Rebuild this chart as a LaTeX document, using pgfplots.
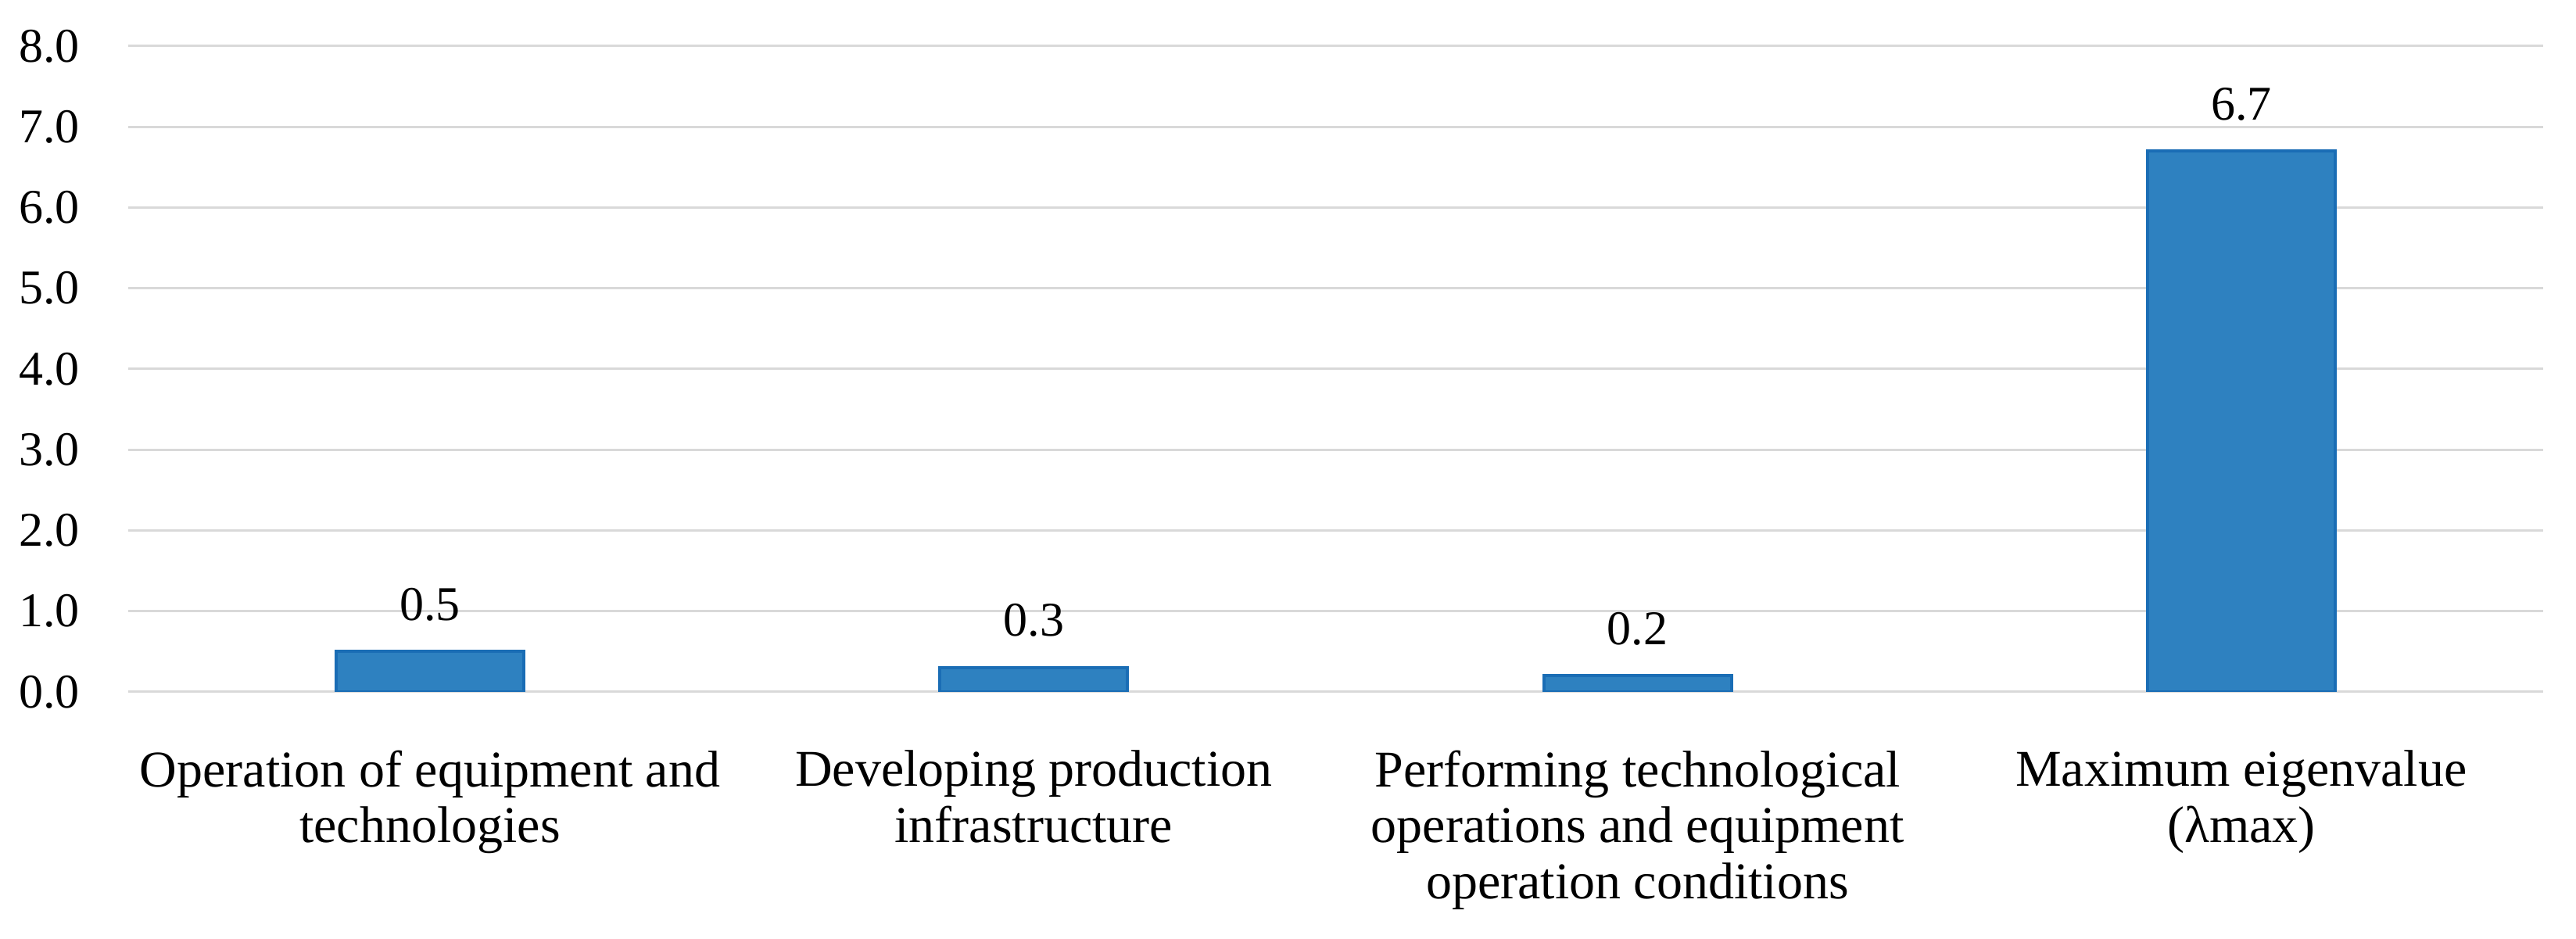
\documentclass[border=0pt]{standalone}
\usepackage{fontspec}
\setmainfont{Liberation Serif}
\usepackage{pgfplots}
\pgfplotsset{compat=1.18}

\definecolor{barfill}{HTML}{2E81C0}
\definecolor{baredge}{HTML}{1A6DB5}
\definecolor{gridgray}{HTML}{D9D9D9}

\begin{document}
\begin{tikzpicture}
\begin{axis}[
	scale only axis,
	width=772.25pt, height=206.5pt,
	xmin=-0.5, xmax=3.5,
	ymin=0, ymax=8,
	ytick={0,1,...,8},
	xtick={0,1,2,3},
	xticklabels={
		{Operation of equipment and\\technologies},
		{Developing production\\infrastructure},
		{Performing technological\\operations and equipment\\operation conditions},
		{Maximum eigenvalue\\(λmax)}},
	xticklabel style={align=center, yshift=-11pt,
		font=\fontsize{16.5}{17.8}\selectfont},
	yticklabel style={xshift=-12pt, font=\fontsize{15.5}{18.5}\selectfont},
	/pgf/number format/assume math mode=true,
	yticklabel={\pgfmathprintnumber[fixed,fixed zerofill,precision=1]{\tick}},
	ymajorgrids,
	major grid style={draw=gridgray, line width=0.75pt},
	axis line style={draw=none},
	tick style={draw=none},
	ybar,
	bar width=60pt,
	nodes near coords,
	nodes near coords style={font=\fontsize{15.5}{18.5}\selectfont, yshift=6pt,
		/pgf/number format/.cd, fixed, fixed zerofill, precision=1, assume math mode=true},
]
\addplot[fill=barfill, draw=baredge, line width=1pt] coordinates {
	(0,0.5)
	(1,0.3)
	(2,0.2)
	(3,6.7)
};
\coordinate (ll) at (rel axis cs:0,0);
\coordinate (ur) at (rel axis cs:1,1);
\end{axis}
\pgfresetboundingbox
\path ([xshift=-41pt,yshift=-79pt]ll) rectangle ([xshift=10.5pt,yshift=14.75pt]ur);
\end{tikzpicture}
\end{document}
